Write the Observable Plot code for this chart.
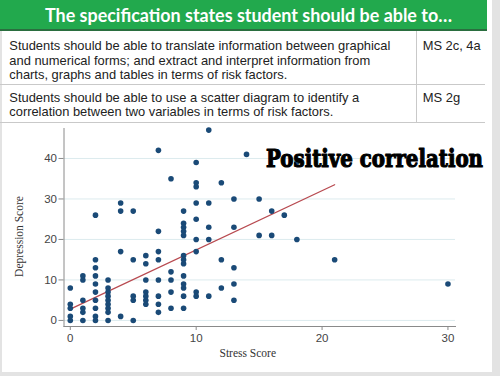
<!DOCTYPE html>
<html><head><meta charset="utf-8">
<script src="https://cdn.jsdelivr.net/npm/d3@7"></script>
<script src="https://cdn.jsdelivr.net/npm/@observablehq/plot@0.6"></script>
<style>
html,body{margin:0;padding:0;width:500px;height:376px;overflow:hidden;background:#e3e3e3;position:relative;}
#slide{position:absolute;left:2px;top:0;width:490px;height:372px;background:#fff;}
#header{position:absolute;left:0;top:0;width:487px;height:29px;background:#22a94d;border-bottom:2px solid #2a6e3f;}
.hl{position:absolute;height:1px;background:#c9c9c9;}
.vl{position:absolute;width:1px;background:#c9c9c9;}
#chart{position:absolute;left:0;top:123px;}
#overlay{position:absolute;left:0;top:0;pointer-events:none;}
</style></head>
<body>
<div id="slide"></div>
<div id="header"></div>
<div class="hl" style="left:0;top:84px;width:485px"></div>
<div class="hl" style="left:0;top:122px;width:485px"></div>
<div class="vl" style="left:416px;top:31px;height:91px"></div>
<div id="chart"></div>
<svg id="overlay" width="500" height="376">
  <text x="45" y="21.7" textLength="407" lengthAdjust="spacingAndGlyphs" fill="#fff" font-family="Lato" font-weight="bold" font-size="19">The specification states student should be able to…</text>
  <g font-family="Liberation Sans" font-size="13" fill="#222">
    <text x="9.3" y="49.5" textLength="381" lengthAdjust="spacingAndGlyphs">Students should be able to translate information between graphical</text>
    <text x="9.3" y="64.5" textLength="361" lengthAdjust="spacingAndGlyphs">and numerical forms; and extract and interpret information from</text>
    <text x="9.3" y="78.5" textLength="278" lengthAdjust="spacingAndGlyphs">charts, graphs and tables in terms of risk factors.</text>
    <text x="9.3" y="101.5" textLength="350" lengthAdjust="spacingAndGlyphs">Students should be able to use a scatter diagram to identify a</text>
    <text x="9.3" y="116" textLength="324" lengthAdjust="spacingAndGlyphs">correlation between two variables in terms of risk factors.</text>
    <text x="422.7" y="49.5" textLength="58" lengthAdjust="spacingAndGlyphs">MS 2c, 4a</text>
    <text x="422.7" y="101.5" textLength="37.5" lengthAdjust="spacingAndGlyphs">MS 2g</text>
  </g>
  <g transform="translate(266,167) scale(1,1.3)">
    <text x="0" y="0" textLength="217" lengthAdjust="spacingAndGlyphs" fill="#000" stroke="#000" stroke-width="0.9" stroke-linejoin="round" font-family="DejaVu Serif" font-weight="bold" font-size="18">Positive correlation</text>
  </g>
</svg>
<script>
// Scatter data: stress score (x) and depression score (y)
const stressScore = [
  0,0,0,0,0,
  1,1,1,1,1,1,
  2,2,2,2,2,2,2,2,2,2,
  3,3,3,3,3,3,3,3,3,
  4,4,4,4,
  5,5,5,5,5,
  6,6,6,6,6,6,6,
  7,7,7,7,7,7,7,7,
  8,8,8,8,8,
  9,9,9,9,9,9,9,9,9,9,9,9,9,
  10,10,10,10,10,10,10,10,10,
  11,11,11,11,11,
  12,12,12,
  13,13,13,13,13,
  14,
  15,15,
  16,16,
  17,
  18,18,
  21,
  30
];
const depressionScore = [
  8,4,3,1,0,
  11,10,5,3,2,0,
  26,15,13,11,9,7,5,3,1,0,
  10,8,7,6,5,4,3,2,0,
  29,27,17,1,
  27,15,6,5,0,
  16,14,10,7,6,5,4,
  42,22,17,15,10,6,4,2,
  35,12,10,7,3,
  27,24,23,22,21,16,15,14,11,9,8,6,3,
  39,34,33,29,25,20,17,7,6,
  47,29,23,20,6,
  34,15,8,
  30,23,13,9,5,
  41,
  30,21,
  27,21,
  26,
  39,20,
  15,
  9
];
// Fitted line endpoints
const trendStress = [0, 21];
const trendDepression = [2.8, 33.5];
const xTicks = [0, 10, 20, 30];
const yTicks = [0, 10, 20, 30, 40];
const xTitle = "Stress Score";
const yTitle = "Depression Score";

const points = stressScore.map((s, i) => ({s, d: depressionScore[i]}));
const trend = trendStress.map((s, i) => ({s, d: trendDepression[i]}));

const chart = Plot.plot({
  width: 500,
  height: 249,
  marginLeft: 63.5,
  marginRight: 45,
  marginTop: 5,
  marginBottom: 46,
  style: {background: "transparent", fontFamily: "Liberation Sans", fontSize: "11px", color: "#444", overflow: "visible"},
  x: {domain: [-0.5, 30.6]},
  y: {domain: [-1.5, 47.4]},
  marks: [
    Plot.gridY(yTicks, {stroke: "#dcebee", strokeOpacity: 1}),
    Plot.frame({anchor: "left", stroke: "#8a8a8a"}),
    Plot.frame({anchor: "bottom", stroke: "#8a8a8a"}),
    Plot.axisY(yTicks, {tickSize: 5, tickPadding: 2, stroke: "#8a8a8a", label: null, fontSize: 11.5}),
    Plot.axisX(xTicks, {tickSize: 4, tickPadding: 3, stroke: "#8a8a8a", label: null, fontSize: 11.5}),
    Plot.text([yTitle], {text: d => d, frameAnchor: "left", rotate: -90, dx: -44.5, dy: 9, textAnchor: "middle", lineAnchor: "middle", fontFamily: "Liberation Serif", fontSize: 11.5, fill: "#333"}),
    Plot.text([xTitle], {text: d => d, frameAnchor: "bottom", dx: -12, dy: 26.5, textAnchor: "middle", lineAnchor: "middle", fontFamily: "Liberation Serif", fontSize: 11.5, fill: "#333"}),
    Plot.line(trend, {x: "s", y: "d", stroke: "#b84a50", strokeWidth: 1.3}),
    Plot.dot(points, {x: "s", y: "d", r: 2.8, fill: "#1a4a77", stroke: "none"})
  ]
});
document.getElementById("chart").appendChild(chart);
</script>
</body></html>
